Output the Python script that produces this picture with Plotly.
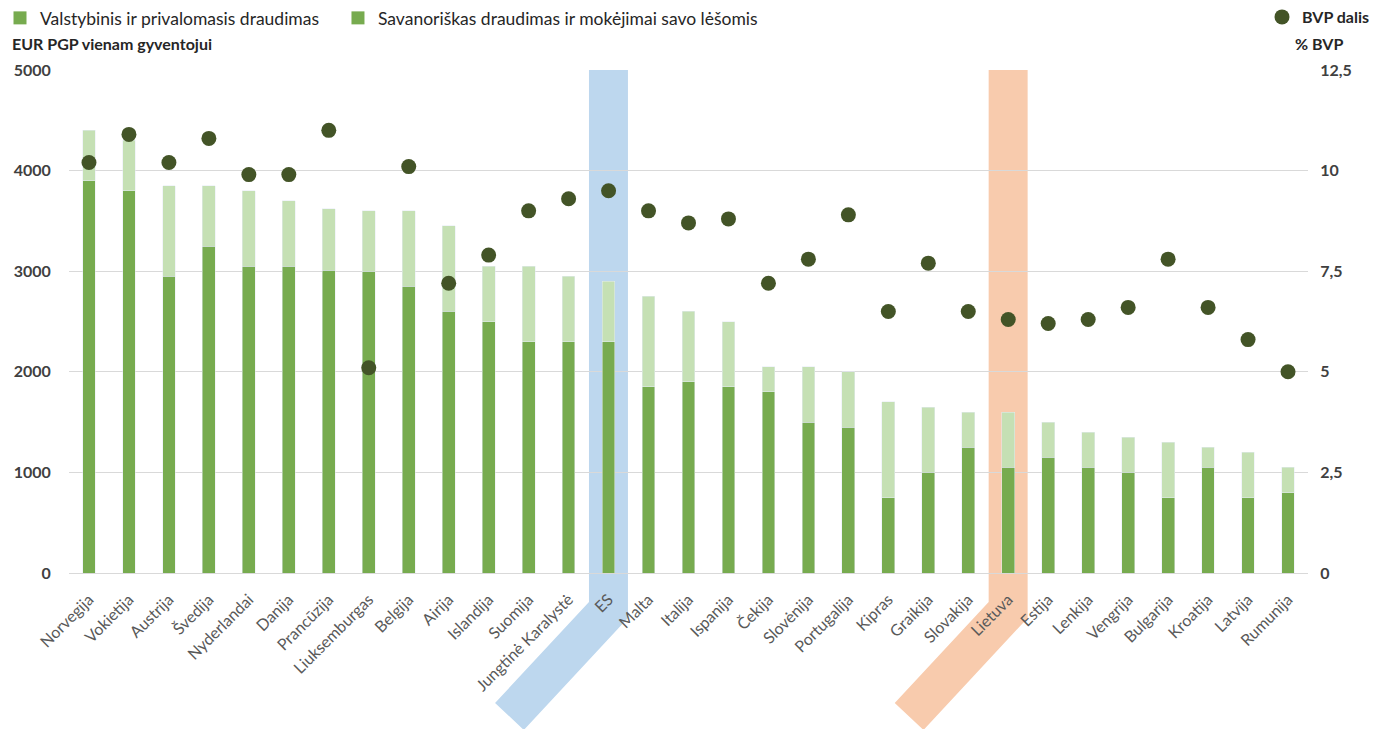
import plotly.graph_objects as go

countries = ["Norvegija", "Vokietija", "Austrija", "Švedija", "Nyderlandai", "Danija",
             "Prancūzija", "Liuksemburgas", "Belgija", "Airija", "Islandija", "Suomija",
             "Jungtinė Karalystė", "ES", "Malta", "Italija", "Ispanija", "Čekija",
             "Slovėnija", "Portugalija", "Kipras", "Graikija", "Slovakija", "Lietuva",
             "Estija", "Lenkija", "Vengrija", "Bulgarija", "Kroatija", "Latvija", "Rumunija"]

compulsory = [3900, 3800, 2950, 3250, 3050, 3050, 3010, 3000, 2850, 2600, 2500, 2300,
              2300, 2300, 1850, 1900, 1850, 1800, 1500, 1450, 750, 1000, 1250, 1050,
              1150, 1050, 1000, 750, 1050, 750, 800]

voluntary = [500, 500, 900, 600, 750, 650, 610, 600, 750, 850, 550, 750,
             650, 600, 900, 700, 650, 250, 550, 550, 950, 650, 350, 550,
             350, 350, 350, 550, 200, 450, 250]

gdp_share = [10.2, 10.9, 10.2, 10.8, 9.9, 9.9, 11.0, 5.1, 10.1, 7.2, 7.9, 9.0,
             9.3, 9.5, 9.0, 8.7, 8.8, 7.2, 7.8, 8.9, 6.5, 7.7, 6.5, 6.3,
             6.2, 6.3, 6.6, 7.8, 6.6, 5.8, 5.0]

left_tickvals = [0, 1000, 2000, 3000, 4000, 5000]
left_ticktext = ["0", "1000", "2000", "3000", "4000", "5000"]
right_tickvals = [0, 2.5, 5, 7.5, 10, 12.5]
right_ticktext = ["0", "2,5", "5", "7,5", "10", "12,5"]

highlights = [("ES", "rgb(189,215,238)"), ("Lietuva", "rgb(248,203,173)")]

DARK = "#77AB4F"
LIGHT = "#C5E0B4"
DOT = "#435427"
FONT = "Lato"

fig = go.Figure()

fig.add_trace(go.Bar(x=countries, y=compulsory, marker_color=DARK, showlegend=False,
                     name="Valstybinis ir privalomasis draudimas"))
fig.add_trace(go.Bar(x=countries, y=voluntary, marker_color=LIGHT, showlegend=False,
                     name="Savanoriškas draudimas ir mokėjimai savo lėšomis"))
fig.add_trace(go.Scatter(x=countries, y=gdp_share, mode="markers", yaxis="y2",
                         marker=dict(color=DOT, size=15), showlegend=False, name="BVP dalis"))

# legend entries
fig.add_trace(go.Scatter(x=[None], y=[None], mode="markers",
                         marker=dict(symbol="square", color=DARK, size=13),
                         name="Valstybinis ir privalomasis draudimas", legend="legend"))
fig.add_trace(go.Scatter(x=[None], y=[None], mode="markers",
                         marker=dict(symbol="square", color=DARK, size=13),
                         name="Savanoriškas draudimas ir mokėjimai savo lėšomis", legend="legend3"))
fig.add_trace(go.Scatter(x=[None], y=[None], mode="markers",
                         marker=dict(color=DOT, size=15),
                         name="BVP dalis", legend="legend2"))

shapes = []
for name, col in highlights:
    c = countries.index(name)
    pts = [(c - 0.49, 1.0), (c + 0.485, 1.0), (c + 0.485, -0.0895), (c - 2.12, -0.3121),
           (c - 2.84, -0.2584), (c - 0.49, -0.0577)]
    path = "M " + " L ".join(f"{x},{y}" for x, y in pts) + " Z"
    shapes.append(dict(type="path", path=path, xref="x", yref="paper", layer="below",
                       fillcolor=col, line=dict(width=0)))

legend_common = dict(orientation="h", xref="container", yref="container", y=1.0,
                     xanchor="left", yanchor="top",
                     font=dict(size=17.5, color="#262626"),
                     bgcolor="rgba(0,0,0,0)")

fig.update_layout(
    width=1375, height=729,
    margin=dict(l=69, r=67, t=70, b=156),
    paper_bgcolor="white", plot_bgcolor="white",
    barmode="stack", bargap=0.68,
    font=dict(family=FONT, color="#404040"),
    shapes=shapes,
    xaxis=dict(type="category", range=[-0.5, len(countries) - 0.5], autorange=False,
               tickangle=-45, showgrid=False, showline=False,
               ticks="outside", ticklen=10, tickcolor="rgba(0,0,0,0)",
               tickfont=dict(size=16, color="#595959"), automargin=False),
    yaxis=dict(range=[0, 5000], tickvals=left_tickvals, ticktext=left_ticktext,
               showgrid=True, gridcolor="#D9D9D9", gridwidth=1, zeroline=True,
               zerolinecolor="#D9D9D9", zerolinewidth=1, showline=False,
               ticks="outside", ticklen=14, tickcolor="rgba(0,0,0,0)",
               tickfont=dict(size=16, color="#404040", weight="bold"), automargin=False),
    yaxis2=dict(range=[0, 12.5], overlaying="y", side="right", tickvals=right_tickvals,
                ticktext=right_ticktext, showgrid=False, zeroline=False, showline=False,
                ticks="outside", ticklen=8, tickcolor="rgba(0,0,0,0)",
                tickfont=dict(size=16, color="#404040", weight="bold"), automargin=False),
    legend=dict(x=0.0, **legend_common),
    legend3=dict(x=0.2458, **legend_common),
    legend2=dict(orientation="h", xref="container", yref="container", x=1.0, y=1.0,
                 xanchor="right", yanchor="top",
                 font=dict(size=16, color="#262626", weight="bold"),
                 bgcolor="rgba(0,0,0,0)"),
    annotations=[
        dict(text="EUR PGP vienam gyventojui", xref="paper", yref="paper",
             x=-0.0476, y=1.0517, xanchor="left", yanchor="middle", showarrow=False,
             font=dict(size=16, color="#262626", weight="bold")),
        dict(text="% BVP", xref="paper", yref="paper", x=1.030, y=1.0517,
             xanchor="right", yanchor="middle", showarrow=False,
             font=dict(size=16, color="#262626", weight="bold")),
    ],
)

fig.write_html("out.html")
